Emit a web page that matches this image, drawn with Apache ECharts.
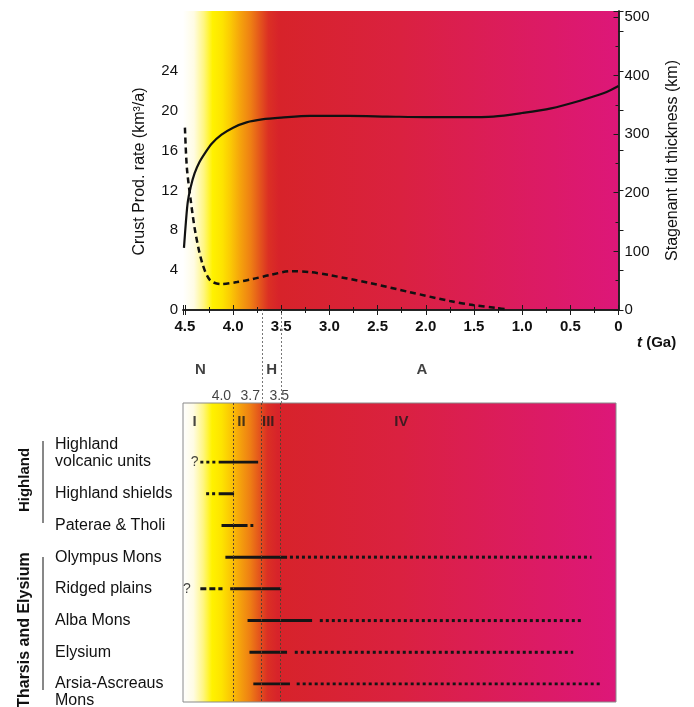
<!DOCTYPE html>
<html>
<head>
<meta charset="utf-8">
<script src="https://cdn.jsdelivr.net/npm/echarts@6/dist/echarts.min.js"></script>
<style>
  html, body { margin: 0; background: #fff; }
  #main { width: 694px; height: 707px; }
</style>
</head>
<body>
<div id="main"></div>
<script>
// stagnant lid thickness (km), solid curve, against age (Ga)
var lidAge = [4.51, 4.49, 4.47, 4.44, 4.40, 4.35, 4.29, 4.22, 4.12, 4.00, 3.86, 3.70, 3.50, 3.20, 2.80, 2.40, 2.00, 1.60, 1.30, 1.00, 0.70, 0.40, 0.15, 0];
var lidKm = [106, 150, 185, 210, 233, 252, 268, 284, 299, 311, 320, 325, 328, 331, 331, 330, 329, 329, 330, 336, 344, 357, 370, 382];

// crust production rate (km3/a), dashed curve
var crustAge = [4.50, 4.48, 4.44, 4.39, 4.32, 4.24, 4.13, 3.96, 3.80, 3.62, 3.40, 3.20, 3.00, 2.58, 2.17, 1.75, 1.51, 1.26, 1.15];
var crustRate = [18.3, 14.3, 11.0, 7.7, 4.7, 3.0, 2.6, 2.8, 3.1, 3.5, 3.9, 3.8, 3.5, 2.7, 1.8, 0.9, 0.5, 0.2, 0.05];

// volcanic units and their activity spans (Ga)
var units = ['Highland\nvolcanic units', 'Highland shields', 'Paterae & Tholi', 'Olympus Mons',
             'Ridged plains', 'Alba Mons', 'Elysium', 'Arsia-Ascreaus\nMons'];
var solidSpans = [[4.15, 3.74], [4.15, 3.99], [4.12, 3.85], [4.08, 3.44], [4.03, 3.50], [3.85, 3.18], [3.83, 3.44], [3.79, 3.41]];
var dottedSpans = [[4.34, 4.16], [4.28, 4.16], [3.82, 3.79], [3.41, 0.28], null, [3.10, 0.37], [3.36, 0.47], [3.34, 0.19]];
var dashedSpans = [null, null, null, null, [4.34, 4.11], null, null, null];
var unsureAge = [4.40, null, null, null, 4.48, null, null, null];

// periods and phases
var eraNames = ['N', 'H', 'A'];
var eraAt = [4.34, 3.60, 2.04];
var eraBounds = [3.7, 3.5];
var phaseNames = ['I', 'II', 'III', 'IV'];
var phaseAt = [4.40, 3.91, 3.63, 2.24];
var phaseBounds = ['4.0', '3.7', '3.5'];

var FONT = '"Liberation Sans", Arial, sans-serif';
var myChart = echarts.init(document.getElementById('main'));

var bg = new echarts.graphic.LinearGradient(0, 0, 1, 0, [
  { offset: 0, color: '#ffffff' },
  { offset: 0.025, color: '#fffce4' },
  { offset: 0.048, color: '#fff680' },
  { offset: 0.068, color: '#fff200' },
  { offset: 0.09, color: '#fde400' },
  { offset: 0.108, color: '#fbcb04' },
  { offset: 0.132, color: '#f5a20c' },
  { offset: 0.156, color: '#ee7e14' },
  { offset: 0.176, color: '#e4561c' },
  { offset: 0.196, color: '#db3024' },
  { offset: 0.22, color: '#d7232a' },
  { offset: 0.5, color: '#da2140' },
  { offset: 1, color: '#dd1779' }
]);

function ageAxis(grid, opts) {
  return Object.assign({
    type: 'value', gridIndex: grid, min: 0, max: 4.52, inverse: true, interval: 0.5,
    splitLine: { show: false }
  }, opts);
}
function hidden(grid, opts) {
  return Object.assign({ type: 'value', gridIndex: grid, show: false, min: 0, max: 1, splitLine: { show: false } }, opts);
}
var frame = { lineStyle: { color: '#1a1a1a', width: 1.5 } };
var dotted = { color: '#5a4030', width: 1, type: [2, 2] };

var series = [
  {
    type: 'line', xAxisIndex: 0, yAxisIndex: 1, symbol: 'none', smooth: 0.3,
    data: lidAge.map(function (t, i) { return [t, lidKm[i]]; }),
    lineStyle: { color: '#111', width: 2.2 }, z: 5
  },
  {
    type: 'line', xAxisIndex: 0, yAxisIndex: 0, symbol: 'none', smooth: 0.3,
    data: crustAge.map(function (t, i) { return [t, crustRate[i]]; }),
    lineStyle: { color: '#111', width: 2.5, type: [6, 4] }, z: 5
  },
  // connectors between the panels
  {
    type: 'line', xAxisIndex: 2, yAxisIndex: 2, data: [],
    markLine: { silent: true, symbol: 'none', label: { show: false },
      lineStyle: { color: '#777', width: 1, type: [2, 2] },
      data: eraBounds.map(function (b) { return { xAxis: b }; }) }
  },
  {
    type: 'scatter', xAxisIndex: 2, yAxisIndex: 2, symbolSize: 0,
    data: eraNames.map(function (n, i) { return { name: n, value: [eraAt[i], 0.355] }; }),
    label: { show: true, formatter: '{b}', position: 'inside', color: '#111', fontSize: 15, fontWeight: 'bold', fontFamily: FONT }
  },
  {
    type: 'scatter', xAxisIndex: 2, yAxisIndex: 2, symbolSize: 0,
    data: phaseBounds.map(function (b, i) {
      return { name: b, value: [+b, 0.07], label: { position: i < 2 ? 'left' : 'inside', distance: 2, offset: i < 2 ? [0, 0] : [-2, 0] } };
    }),
    label: { show: true, formatter: '{b}', color: '#111', fontSize: 14, fontFamily: FONT }
  },
  // bottom panel boundaries and phases
  {
    type: 'line', xAxisIndex: 3, yAxisIndex: 3, data: [],
    markLine: { silent: true, symbol: 'none', label: { show: false }, lineStyle: dotted,
      data: phaseBounds.map(function (b) { return { xAxis: +b }; }) }
  },
  {
    type: 'scatter', xAxisIndex: 3, yAxisIndex: 3, symbolSize: 0,
    data: phaseNames.map(function (n, i) { return { name: n, value: [phaseAt[i], 0.064] }; }),
    label: { show: true, formatter: '{b}', position: 'inside', color: '#1a1a1a', fontSize: 15, fontWeight: 'bold', fontFamily: FONT }
  },
  {
    type: 'scatter', xAxisIndex: 4, yAxisIndex: 4, symbolSize: 0,
    data: unsureAge.map(function (t, i) { return t == null ? null : [t, i]; }).filter(Boolean),
    label: { show: true, formatter: '?', position: 'inside', color: '#111', fontSize: 14, fontFamily: FONT }
  }
];

function addSpans(spans, style) {
  spans.forEach(function (s, i) {
    if (!s) return;
    series.push({
      type: 'line', xAxisIndex: 4, yAxisIndex: 4, symbol: 'none', silent: true,
      data: [[s[0], i], [s[1], i]],
      lineStyle: Object.assign({ color: '#151515', cap: 'butt' }, style), z: 4
    });
  });
}
addSpans(solidSpans, { width: 3 });
addSpans(dottedSpans, { width: 3, type: [3, 3] });
addSpans(dashedSpans, { width: 3, type: [6, 3] });

myChart.setOption({
  animation: false,
  grid: [
    { left: 183, top: 11, width: 435.5, height: 299, show: true, backgroundColor: bg, borderWidth: 0, outerBoundsMode: 'none' },
    { left: 183, top: 310, width: 435.5, height: 93, outerBoundsMode: 'none' },
    { left: 183, top: 403, width: 433, height: 299, show: true, backgroundColor: bg, borderColor: '#8a8a8a', borderWidth: 1, outerBoundsMode: 'none' },
    { left: 183, top: 462, width: 435.5, height: 222, outerBoundsMode: 'none' }
  ],
  xAxis: [
    ageAxis(0, {
      position: 'bottom', axisLine: frame,
      axisTick: { inside: true, length: 5, lineStyle: { color: '#1a1a1a' } },
      minorTick: { show: true, splitNumber: 2, length: 3, lineStyle: { color: '#1a1a1a' } },
      axisLabel: { margin: 9, fontSize: 15, fontWeight: 'bold', color: '#111', fontFamily: FONT,
        formatter: function (v) { return Math.abs(v * 2 - Math.round(v * 2)) > 1e-6 ? '' : (v === 0 ? '0' : v.toFixed(1)); } }
    }),
    ageAxis(0, {
      position: 'top', axisLine: frame,
      axisTick: { inside: true, length: 5, lineStyle: { color: '#1a1a1a' } },
      minorTick: { show: true, splitNumber: 2, length: 3, lineStyle: { color: '#1a1a1a' } },
      axisLabel: { show: false }
    }),
    ageAxis(1, { show: false }),
    ageAxis(2, { show: false }),
    ageAxis(3, { show: false })
  ],
  yAxis: [
    {
      type: 'value', gridIndex: 0, position: 'left', min: 0, max: 30, interval: 4,
      name: 'Crust Prod. rate (km³/a)', nameLocation: 'middle', nameGap: 35, nameRotate: 90,
      nameTextStyle: { fontSize: 16, color: '#111', fontFamily: FONT, padding: [0, 22, 0, 0] },
      axisLine: frame, splitLine: { show: false },
      axisTick: { inside: true, length: 5, lineStyle: { color: '#1a1a1a' } },
      axisLabel: { margin: 5, fontSize: 15, color: '#111', fontFamily: FONT,
        formatter: function (v) { return v <= 24 ? String(v) : ''; } }
    },
    {
      type: 'value', gridIndex: 0, position: 'right', min: 0, max: 510, interval: 100,
      name: 'Stagenant lid thickness (km)', nameLocation: 'middle', nameGap: 46, nameRotate: 90,
      nameTextStyle: { fontSize: 16, color: '#111', fontFamily: FONT },
      axisLine: frame, splitLine: { show: false },
      axisTick: { inside: true, length: 5, lineStyle: { color: '#1a1a1a' } },
      minorTick: { show: true, splitNumber: 2, length: 3, lineStyle: { color: '#1a1a1a' } },
      axisLabel: { margin: 6, fontSize: 15, color: '#111', fontFamily: FONT,
        formatter: function (v) { return v % 100 === 0 ? String(v) : ''; } }
    },
    hidden(1),
    hidden(2, { inverse: true }),
    {
      type: 'category', gridIndex: 3, inverse: true, boundaryGap: false, data: units,
      axisLine: { show: false }, axisTick: { show: false }, splitLine: { show: false },
      axisLabel: { show: false }
    }
  ],
  series: series
});

// unit names, left aligned, placed on the rows of the category axis
var graphics = units.map(function (u, i) {
  var y = myChart.convertToPixel({ yAxisIndex: 4 }, i);
  var multi = u.indexOf('\n') >= 0;
  var firstOnRow = /Mons$/.test(u);
  return {
    type: 'text', x: 55, y: multi ? (firstOnRow ? y - 8.5 : y + 8.5) : y,
    style: { text: u, font: '16px ' + FONT, lineHeight: 17, fill: '#111', align: 'left',
      verticalAlign: multi ? (firstOnRow ? 'top' : 'bottom') : 'middle' }
  };
});
graphics.push(
  { type: 'text', x: 25, y: 480, rotation: Math.PI / 2,
    style: { text: 'Highland', font: 'bold 15px ' + FONT, fill: '#111', align: 'center', verticalAlign: 'middle' } },
  { type: 'text', x: 25, y: 630, rotation: Math.PI / 2,
    style: { text: 'Tharsis and Elysium', font: 'bold 16px ' + FONT, fill: '#111', align: 'center', verticalAlign: 'middle' } },
  { type: 'line', shape: { x1: 43, y1: 441, x2: 43, y2: 523 }, style: { stroke: '#111', lineWidth: 1 } },
  { type: 'line', shape: { x1: 43, y1: 557, x2: 43, y2: 690 }, style: { stroke: '#111', lineWidth: 1 } },
  { type: 'text', x: 637, y: 343,
    style: { text: '{i|t} (Ga)', font: 'bold 15px ' + FONT, fill: '#111', verticalAlign: 'middle',
      rich: { i: { fontStyle: 'italic', fontWeight: 'bold', fontSize: 15, fontFamily: FONT } } } }
);
myChart.setOption({ graphic: graphics });
</script>
</body>
</html>
